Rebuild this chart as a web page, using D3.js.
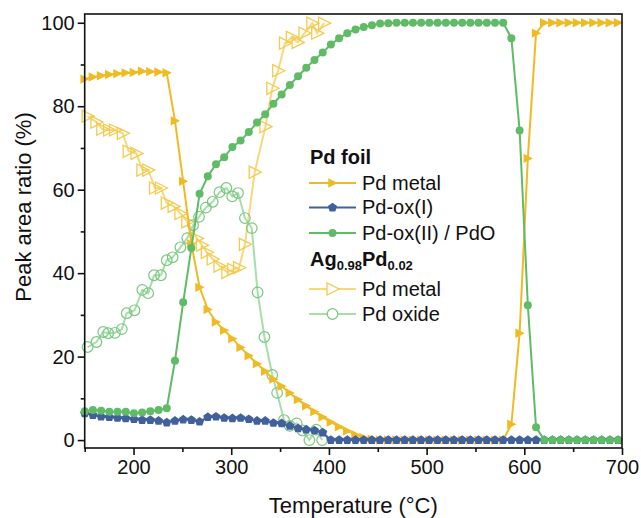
<!DOCTYPE html>
<html>
<head>
<meta charset="utf-8">
<script src="https://cdn.jsdelivr.net/npm/d3@7"></script>
<style>
    body { margin: 0; background: #fff; }
    svg text { font-family: Arial, "Liberation Sans", sans-serif; fill: #111; }
</style>
</head>
<body>
<div id="chart"></div>
<script>
// Pd foil: measurement temperatures (°C)
const foilTemp = [150, 158.4, 166.8, 175.2, 183.6, 192, 200.4, 208.8, 217.2, 225.6,
    234, 242.4, 250.8, 259.2, 267.6, 276, 284.4, 292.8, 301.2, 309.6,
    318, 326.4, 334.8, 343.2, 351.6, 360, 368.4, 376.8, 385.2, 393.6,
    402, 410.4, 418.8, 427.2, 435.6, 444, 452.4, 460.8, 469.2, 477.6,
    486, 494.4, 502.8, 511.2, 519.6, 528, 536.4, 544.8, 553.2, 561.6,
    570, 578.4, 586.8, 595.2, 603.6, 612, 620.4, 628.8, 637.2, 645.6,
    654, 662.4, 670.8, 679.2, 687.6, 696];

const foilMetal = [86.5, 87, 87.3, 87.6, 87.8, 88, 88.1, 88.4, 88.3, 88.2,
    88, 76.5, 62, 47, 36.6, 31.3, 28.3, 26.3, 24.3, 22.2,
    20.2, 18.3, 16.5, 14.6, 12.9, 11.3, 9.7, 8.2, 6.8, 5.5,
    4.3, 3.2, 2.2, 1.3, 0.6, 0.2, 0, 0, 0, 0,
    0, 0, 0, 0, 0, 0, 0, 0, 0, 0,
    0, 0, 3.8, 25.6, 67.5, 97.5, 100, 100, 100, 100,
    100, 100, 100, 100, 100, 100];

const foilOx1 = [6.4, 6.0, 5.6, 5.5, 5.3, 5.2, 5.0, 4.8, 4.8, 4.6,
    4.2, 4.6, 4.9, 4.8, 4.4, 5.5, 5.6, 5.3, 5.2, 5.3,
    5.0, 4.6, 4.6, 4.1, 4.0, 3.4, 2.8, 2.5, 2.3, 1.8,
    0, 0, 0, 0, 0, 0, 0, 0, 0, 0,
    0, 0, 0, 0, 0, 0, 0, 0, 0, 0,
    0, 0, 0, 0, 0, 0, 0, 0, 0, 0,
    0, 0, 0, 0, 0, 0];

const foilOx2 = [6.9, 7.2, 7.0, 6.8, 6.8, 6.8, 6.4, 6.6, 6.9, 7.2,
    7.6, 19, 33, 46, 59, 63.2, 66.1, 67.8, 70.2, 71.8,
    73.8, 76.1, 78.1, 80.6, 82.8, 85.1, 87.2, 89.2, 91.1, 92.9,
    94.8, 96.3, 97.5, 98.4, 99, 99.4, 99.8, 99.9, 100, 100,
    100, 100, 100, 100, 100, 100, 100, 100, 100, 100,
    100, 100, 96.3, 74.2, 32.3, 3.1, 0, 0, 0, 0,
    0, 0, 0, 0, 0, 0];

// Ag0.98Pd0.02 alloy
const alloyMetalTemp = [153, 162, 168, 175, 181, 189, 195, 203, 209, 215,
    222, 228, 234, 241, 248, 255, 265, 270, 275, 281,
    288, 296, 302, 308, 314, 324, 335, 342, 348, 355,
    362, 368, 375, 383, 388, 395];
const alloyMetal = [77.6, 76.2, 74.5, 74.3, 74.3, 73.5, 69.2, 68.7, 64.7, 64.7,
    60.4, 60.4, 56.8, 56, 54.3, 52.3, 48.3, 46.7, 45, 43.4,
    41.7, 40.2, 40.9, 41.3, 46.9, 64.2, 75.1, 84.3, 88.5, 95.1,
    96.5, 95.3, 97.5, 99.9, 97.5, 99.9];

const alloyOxTemp = [153, 162, 169, 174, 181, 188, 193, 201, 209, 215,
    221, 228, 234, 240, 248, 255, 261, 267, 274, 281,
    288, 295, 301, 307, 314, 321, 327, 334, 342, 347,
    354, 360, 367, 373, 380, 387, 393];
const alloyOx = [22.3, 23.5, 25.9, 25.6, 25.7, 26.6, 30.4, 31.1, 36, 35.2,
    39.5, 39.5, 43.1, 43.8, 46.2, 48.4, 51.5, 53.5, 55.7, 57.1,
    59.4, 60.4, 58.4, 59.2, 53.2, 50.8, 35.4, 24.7, 15.6, 11.3,
    4.8, 3.4, 4.0, 2.3, 0, 2.5, 0];

const xTicks = [200, 300, 400, 500, 600, 700];
const xMinor = [150, 250, 350, 450, 550, 650];
const yTicks = [0, 20, 40, 60, 80, 100];
const yMinor = [10, 30, 50, 70, 90];

// marker shapes
const triRight = s => `M${-s * 0.5},${-s * 0.55}L${s * 0.6},0L${-s * 0.5},${s * 0.55}Z`;
const pentagon = r => {
    let p = d3.range(5).map(k => {
        let a = -Math.PI / 2 + k * 2 * Math.PI / 5;
        return [r * Math.cos(a), r * Math.sin(a)];
    });
    return "M" + p.map(d => d.join(",")).join("L") + "Z";
};
const circle = r => `M${r},0A${r},${r} 0 1,1 ${-r},0A${r},${r} 0 1,1 ${r},0Z`;

const series = [
    {temp: alloyMetalTemp, vals: alloyMetal, line: "#F7D87C", stroke: "#F3CB4E", fill: "none", path: triRight(11), sw: 1.3},
    {temp: alloyOxTemp, vals: alloyOx, line: "#A8DDAC", stroke: "#78C97F", fill: "none", path: circle(5.3), sw: 1.2},
    {temp: foilTemp, vals: foilMetal, line: "#F0BA22", stroke: "#F0BA22", fill: "#F0BA22", path: triRight(8.5), sw: 0},
    {temp: foilTemp, vals: foilOx1, line: "#41609C", stroke: "#41609C", fill: "#41609C", path: pentagon(4.8), sw: 0},
    {temp: foilTemp, vals: foilOx2, line: "#60BB66", stroke: "#60BB66", fill: "#60BB66", path: circle(4), sw: 0}
];

const width = 641, height = 518;
const margin = {top: 14, right: 19, bottom: 70, left: 84.7};
const w = width - margin.left - margin.right;
const h = height - margin.top - margin.bottom;

const svg = d3.select("#chart").append("svg")
    .attr("width", width)
    .attr("height", height);

const g = svg.append("g")
    .attr("transform", `translate(${margin.left},${margin.top})`);

const x = d3.scaleLinear().domain([150, 700]).range([0, w]);
const y = d3.scaleLinear().domain([-1.9, 102.1]).range([h, 0]);

const line = d3.line().x(d => x(d[0])).y(d => y(d[1]));

// Axes
const xAxis = g.append("g")
    .attr("transform", `translate(0,${h})`)
    .call(d3.axisBottom(x).tickValues(xTicks).tickSize(7).tickPadding(5));
g.append("g")
    .attr("transform", `translate(0,${h})`)
    .call(d3.axisBottom(x).tickValues(xMinor).tickSize(4).tickFormat(""));
const yAxis = g.append("g")
    .call(d3.axisLeft(y).tickValues(yTicks).tickSize(7).tickPadding(3));
g.append("g")
    .call(d3.axisLeft(y).tickValues(yMinor).tickSize(4).tickFormat(""));

g.selectAll(".domain").remove();
g.selectAll(".tick line").attr("stroke", "#111").attr("stroke-width", 1.6);
g.selectAll(".tick text").style("font-size", "20px").attr("fill", "#111");

// Series
series.forEach(s => {
    let pts = s.temp.map((t, i) => [t, s.vals[i]]);
    g.append("path")
        .datum(pts)
        .attr("fill", "none")
        .attr("stroke", s.line)
        .attr("stroke-width", 2)
        .attr("d", line);
    g.append("g").selectAll("path")
        .data(pts)
        .join("path")
        .attr("transform", d => `translate(${x(d[0])},${y(d[1])})`)
        .attr("d", s.path)
        .attr("fill", s.fill)
        .attr("stroke", s.stroke)
        .attr("stroke-width", s.sw);
});

// Frame
g.append("rect")
    .attr("width", w)
    .attr("height", h)
    .attr("fill", "none")
    .attr("stroke", "#111")
    .attr("stroke-width", 1.6);

// Axis titles
svg.append("text")
    .attr("x", margin.left + w / 2)
    .attr("y", 513)
    .attr("text-anchor", "middle")
    .style("font-size", "22px")
    .text("Temperature (°C)");

svg.append("text")
    .attr("transform", "translate(31,207) rotate(-90)")
    .attr("text-anchor", "middle")
    .style("font-size", "22px")
    .text("Peak area ratio (%)");

// Legend
const leg = svg.append("g");
const legX1 = 309, legX2 = 356, legTx = 362;

leg.append("text").attr("x", 310).attr("y", 163.5)
    .style("font-size", "20px").style("font-weight", "bold").text("Pd foil");

const ag = leg.append("text").attr("x", 310).attr("y", 266)
    .style("font-size", "20px").style("font-weight", "bold");
ag.append("tspan").text("Ag");
ag.append("tspan").attr("dy", 4).style("font-size", "13px").text("0.98");
ag.append("tspan").attr("dy", -4).text("Pd");
ag.append("tspan").attr("dy", 4).style("font-size", "13px").text("0.02");

const legendItems = [
    {s: series[2], label: "Pd metal", yb: 189.5},
    {s: series[3], label: "Pd-ox(I)", yb: 214},
    {s: series[4], label: "Pd-ox(II) / PdO", yb: 239.5},
    {s: series[0], label: "Pd metal", yb: 295.5},
    {s: series[1], label: "Pd oxide", yb: 320.5}
];

legendItems.forEach(it => {
    let ly = it.yb - 6.5;
    leg.append("line")
        .attr("x1", legX1).attr("x2", legX2)
        .attr("y1", ly).attr("y2", ly)
        .attr("stroke", it.s.line).attr("stroke-width", 2);
    leg.append("path")
        .attr("transform", `translate(${(legX1 + legX2) / 2},${ly})`)
        .attr("d", it.s.path)
        .attr("fill", it.s.fill === "none" ? "#fff" : it.s.fill)
        .attr("stroke", it.s.stroke)
        .attr("stroke-width", it.s.sw);
    leg.append("text")
        .attr("x", legTx).attr("y", it.yb)
        .style("font-size", "20px")
        .text(it.label);
});
</script>
</body>
</html>
